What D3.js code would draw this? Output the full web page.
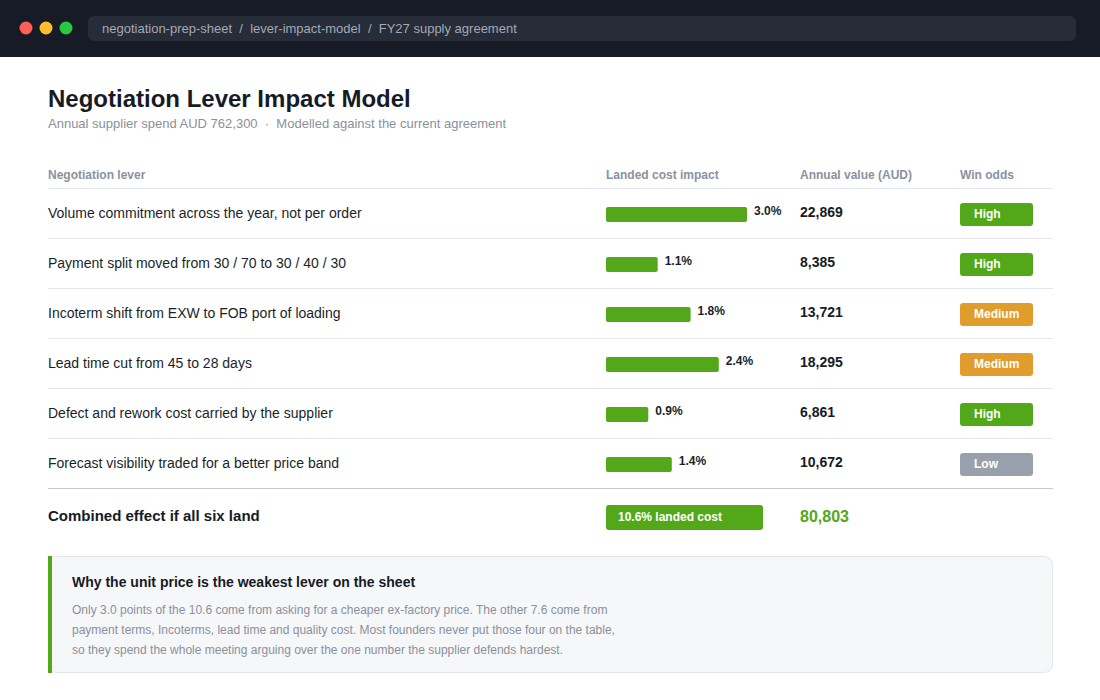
<!DOCTYPE html>
<html>
<head>
<meta charset="utf-8">
<script src="https://cdn.jsdelivr.net/npm/d3@7"></script>
<style>
  html, body { margin: 0; padding: 0; background: #ffffff; }
  svg { display: block; font-family: "Liberation Sans", Arial, Helvetica, sans-serif; }
</style>
</head>
<body>
<div id="chart"></div>
<script>
// lever table data
const levers = [
    'Volume commitment across the year, not per order',
    'Payment split moved from 30 / 70 to 30 / 40 / 30',
    'Incoterm shift from EXW to FOB port of loading',
    'Lead time cut from 45 to 28 days',
    'Defect and rework cost carried by the supplier',
    'Forecast visibility traded for a better price band'
];
const impactPct = [3.0, 1.1, 1.8, 2.4, 0.9, 1.4];
const annualValue = [22869, 8385, 13721, 18295, 6861, 10672];
const winOdds = ['High', 'High', 'Medium', 'Medium', 'High', 'Low'];
const columnHeaders = ['Negotiation lever', 'Landed cost impact', 'Annual value (AUD)', 'Win odds'];
const totalLabel = 'Combined effect if all six land';
const totalPct = 10.6;
const totalValue = 80803;
const breadcrumb = ['negotiation-prep-sheet', 'lever-impact-model', 'FY27 supply agreement'];
const noteTitle = 'Why the unit price is the weakest lever on the sheet';
const noteLines = [
    'Only 3.0 points of the 10.6 come from asking for a cheaper ex-factory price. The other 7.6 come from',
    'payment terms, Incoterms, lead time and quality cost. Most founders never put those four on the table,',
    'so they spend the whole meeting arguing over the one number the supplier defends hardest.'
];

const W = 1100, H = 700;
const green = '#52a818';
const oddsColor = d3.scaleOrdinal()
    .domain(['High', 'Medium', 'Low'])
    .range([green, '#e09c2c', '#9aa0ab']);

const svg = d3.select('#chart').append('svg')
    .attr('width', W)
    .attr('height', H);

// window chrome
svg.append('rect').attr('width', W).attr('height', 57).attr('fill', '#161b26');
svg.selectAll('circle.dot')
    .data(['#ff5f57', '#febc2e', '#28c840'])
    .enter().append('circle')
    .attr('class', 'dot')
    .attr('cx', (d, i) => 26 + i * 20)
    .attr('cy', 28)
    .attr('r', 6.5)
    .attr('fill', d => d);
svg.append('rect')
    .attr('x', 88).attr('y', 16).attr('width', 988).attr('height', 25).attr('rx', 6)
    .attr('fill', '#262c38');
svg.append('text')
    .attr('x', 102).attr('y', 33)
    .attr('font-size', 13).attr('fill', '#a3a9b5')
    .style('white-space', 'pre')
    .text(breadcrumb.join('  /  '));

// heading
svg.append('text')
    .attr('x', 48).attr('y', 107)
    .attr('font-size', 24).attr('font-weight', 700).attr('fill', '#161b26')
    .text('Negotiation Lever Impact Model');
svg.append('text')
    .attr('x', 48).attr('y', 128)
    .attr('font-size', 13).attr('fill', '#8a909c')
    .style('white-space', 'pre')
    .text('Annual supplier spend AUD 762,300  \u00b7  Modelled against the current agreement');

// table layout
const left = 48, right = 1053;
const colX = [48, 606, 800, 960];
const headerBase = 179;
const rowTop = 188, rowH = 50;

const yRow = d3.scaleBand()
    .domain(d3.range(levers.length))
    .range([rowTop, rowTop + rowH * levers.length])
    .paddingInner(0);

const xBar = d3.scaleLinear()
    .domain([0, d3.max(impactPct)])
    .range([0, 141]);

svg.selectAll('text.head')
    .data(columnHeaders)
    .enter().append('text')
    .attr('class', 'head')
    .attr('x', (d, i) => colX[i])
    .attr('y', headerBase)
    .attr('font-size', 12).attr('font-weight', 700).attr('fill', '#8a92a0')
    .text(d => d);

svg.append('line')
    .attr('x1', left).attr('x2', right)
    .attr('y1', rowTop + 0.5).attr('y2', rowTop + 0.5)
    .attr('stroke', '#e4e7ee');

const rows = svg.selectAll('g.row')
    .data(levers.map((name, i) => ({name, pct: impactPct[i], value: annualValue[i], odds: winOdds[i], i})))
    .enter().append('g')
    .attr('class', 'row')
    .attr('transform', d => `translate(0,${yRow(d.i)})`);

rows.append('line')
    .attr('x1', left).attr('x2', right)
    .attr('y1', rowH + 0.5).attr('y2', rowH + 0.5)
    .attr('stroke', (d, i) => i === levers.length - 1 ? '#c4cad4' : '#e4e7ee');

rows.append('text')
    .attr('x', colX[0]).attr('y', 29.5)
    .attr('font-size', 14).attr('fill', '#1a1f2b')
    .text(d => d.name);

rows.append('rect')
    .attr('x', colX[1]).attr('y', 19)
    .attr('width', d => xBar(d.pct)).attr('height', 15)
    .attr('rx', 2)
    .attr('fill', green);

rows.append('text')
    .attr('x', d => colX[1] + xBar(d.pct) + 7).attr('y', 27)
    .attr('font-size', 12).attr('font-weight', 700).attr('fill', '#1a1f2b')
    .text(d => d.pct.toFixed(1) + '%');

rows.append('text')
    .attr('x', colX[2]).attr('y', 29)
    .attr('font-size', 14).attr('font-weight', 700).attr('fill', '#161b26')
    .text(d => d3.format(',')(d.value));

rows.append('rect')
    .attr('x', colX[3]).attr('y', 15)
    .attr('width', 73).attr('height', 23)
    .attr('rx', 3)
    .attr('fill', d => oddsColor(d.odds));

rows.append('text')
    .attr('x', colX[3] + 14).attr('y', 30)
    .attr('font-size', 12).attr('font-weight', 700).attr('fill', '#ffffff')
    .text(d => d.odds);

// combined row
const totalTop = rowTop + rowH * levers.length;
svg.append('text')
    .attr('x', colX[0]).attr('y', totalTop + 33)
    .attr('font-size', 15).attr('font-weight', 700).attr('fill', '#161b26')
    .text(totalLabel);
svg.append('rect')
    .attr('x', colX[1]).attr('y', totalTop + 17)
    .attr('width', 157).attr('height', 25)
    .attr('rx', 3)
    .attr('fill', green);
svg.append('text')
    .attr('x', colX[1] + 12).attr('y', totalTop + 32.5)
    .attr('font-size', 12).attr('font-weight', 700).attr('fill', '#ffffff')
    .text(totalPct.toFixed(1) + '% landed cost');
svg.append('text')
    .attr('x', colX[2]).attr('y', totalTop + 34)
    .attr('font-size', 16).attr('font-weight', 700).attr('fill', green)
    .text(d3.format(',')(totalValue));

// note box
const noteTop = 556, noteH = 116;
svg.append('rect')
    .attr('x', left + 0.5).attr('y', noteTop + 0.5)
    .attr('width', right - left - 1).attr('height', noteH)
    .attr('rx', 8)
    .attr('fill', '#f6f7f9').attr('stroke', '#e2e5ea');
svg.append('rect')
    .attr('x', left).attr('y', noteTop)
    .attr('width', 4).attr('height', noteH + 1)
    .attr('fill', green);
svg.append('text')
    .attr('x', 72).attr('y', noteTop + 31)
    .attr('font-size', 14).attr('font-weight', 700).attr('fill', '#161b26')
    .text(noteTitle);
svg.selectAll('text.note')
    .data(noteLines)
    .enter().append('text')
    .attr('class', 'note')
    .attr('x', 72).attr('y', (d, i) => noteTop + 58 + i * 20)
    .attr('font-size', 12).attr('fill', '#8a909c')
    .text(d => d);
</script>
</body>
</html>
